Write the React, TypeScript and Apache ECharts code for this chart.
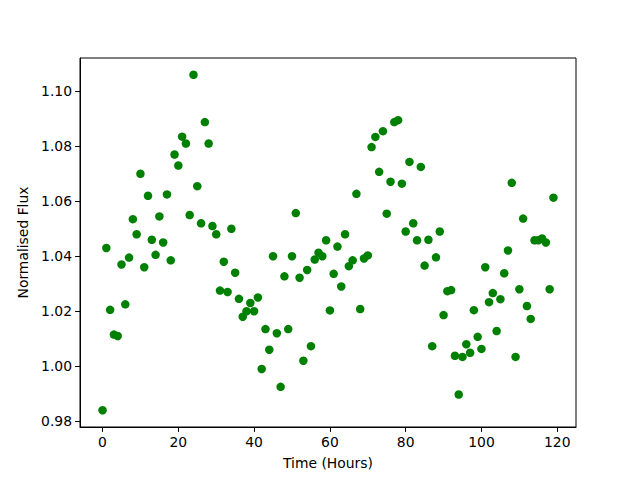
import React, { useEffect, useRef } from "react";
import * as echarts from "echarts";

const hours: number[] = Array.from({ length: 120 }, (_, i) => i);

const flux: number[] = [
  0.984, 1.043, 1.0205, 1.0115, 1.011, 1.037, 1.0225, 1.0395, 1.0535, 1.048,
  1.07, 1.036, 1.062, 1.046, 1.0405, 1.0545, 1.045, 1.0625, 1.0385, 1.077,
  1.073, 1.0835, 1.081, 1.055, 1.106, 1.0655, 1.052, 1.0888, 1.081, 1.051,
  1.048, 1.0275, 1.038, 1.027, 1.05, 1.034, 1.0245, 1.018, 1.02, 1.023,
  1.02, 1.025, 0.999, 1.0135, 1.006, 1.04, 1.012, 0.9925, 1.0327, 1.0135,
  1.04, 1.0557, 1.0322, 1.002, 1.035, 1.0073, 1.0388, 1.0413, 1.04, 1.0458,
  1.0203, 1.0336, 1.0435, 1.029, 1.048, 1.0364, 1.0385, 1.0627, 1.0208, 1.0392,
  1.0403, 1.0797, 1.0834, 1.0707, 1.0855, 1.0555, 1.0671, 1.0888, 1.0895, 1.0664,
  1.049, 1.0743, 1.052, 1.0458, 1.0725, 1.0366, 1.046, 1.0073, 1.0396, 1.049,
  1.0186, 1.0273, 1.0277, 1.0038, 0.9897, 1.0034, 1.008, 1.0049, 1.0204, 1.0107,
  1.0063, 1.036, 1.0233, 1.0266, 1.0128, 1.0244, 1.0338, 1.0421, 1.0667, 1.0034,
  1.028, 1.0537, 1.0219, 1.0172, 1.0458, 1.0458, 1.0465, 1.045, 1.028, 1.0613,
];

const xTicks: number[] = [0, 20, 40, 60, 80, 100, 120];
const yTicks: number[] = [0.98, 1.0, 1.02, 1.04, 1.06, 1.08, 1.1];

const FONT = "DejaVu Sans";

export default function App() {
  const ref = useRef<HTMLDivElement>(null);
  useEffect(() => {
    if (!ref.current) return;
    const chart = echarts.init(ref.current, null, { renderer: "svg" });
    const xMin = 0 - 0.05 * 119;
    const xMax = 119 + 0.05 * 119;
    const fMin = Math.min(...flux);
    const fMax = Math.max(...flux);
    const fr = fMax - fMin;
    chart.setOption({
      animation: false,
      backgroundColor: "#ffffff",
      grid: {
        left: 80,
        right: 64,
        top: 58,
        bottom: 53,
        show: true,
        borderColor: "#000000",
        borderWidth: 1,
        backgroundColor: "transparent",
      },
      xAxis: {
        type: "value",
        min: xMin,
        max: xMax,
        name: "Time (Hours)",
        nameLocation: "middle",
        nameGap: 29,
        nameTextStyle: { fontFamily: FONT, fontSize: 13.9, color: "#000" },
        splitLine: { show: false },
        axisLine: { show: true, onZero: false, lineStyle: { color: "#000", width: 1 } },
        axisTick: {
          show: true,
          customValues: xTicks,
          length: 4.9,
          lineStyle: { color: "#000", width: 1 },
        },
        axisLabel: {
          customValues: xTicks,
          margin: 8,
          fontFamily: FONT,
          fontSize: 13.9,
          color: "#000",
          formatter: (v: number) => String(Math.round(v)),
        },
      },
      yAxis: {
        type: "value",
        min: fMin - 0.05 * fr,
        max: fMax + 0.05 * fr,
        name: "Normalised Flux",
        nameLocation: "middle",
        nameGap: 41,
        nameTextStyle: { fontFamily: FONT, fontSize: 13.9, color: "#000" },
        splitLine: { show: false },
        axisLine: { show: true, onZero: false, lineStyle: { color: "#000", width: 1 } },
        axisTick: {
          show: true,
          customValues: yTicks,
          length: 4.9,
          lineStyle: { color: "#000", width: 1 },
        },
        axisLabel: {
          customValues: yTicks,
          margin: 8,
          fontFamily: FONT,
          fontSize: 13.9,
          color: "#000",
          formatter: (v: number) => v.toFixed(2),
        },
      },
      series: [
        {
          type: "scatter",
          data: hours.map((h, i) => [h, flux[i]]),
          symbol: "circle",
          symbolSize: 8.5,
          itemStyle: { color: "#008000", opacity: 1 },
          emphasis: { disabled: true },
        },
      ],
    });
    return () => chart.dispose();
  }, []);
  return (
    <div
      ref={ref}
      style={{ position: "fixed", left: 0, top: 0, width: 640, height: 480 }}
    />
  );
}
